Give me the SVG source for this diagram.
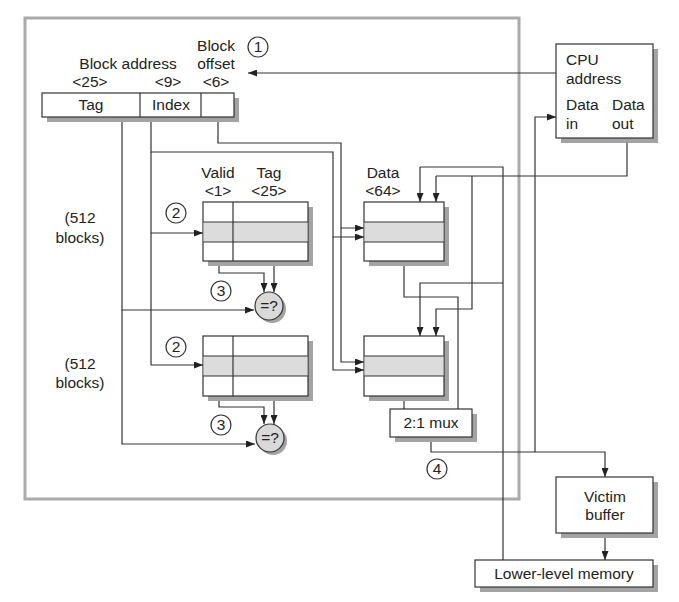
<svg xmlns="http://www.w3.org/2000/svg" width="679" height="602" viewBox="0 0 679 602">
<defs>
<marker id="ah" markerWidth="9" markerHeight="7" refX="9" refY="3.5" orient="auto" markerUnits="userSpaceOnUse">
<path d="M0,0 L9,3.5 L0,7 z" fill="#222"/>
</marker>
<style>
text{font-family:"Liberation Sans",Arial,sans-serif;font-size:15.5px;fill:#222}
.c{text-anchor:middle}
.box{fill:#fff;stroke:#333;stroke-width:1.2}
.sh{fill:#a3a3a3}
.hl{fill:#dcdcdd;stroke:none}
.ln{fill:none;stroke:#333;stroke-width:1.2}
.w{fill:none;stroke:#333;stroke-width:1.2}
.a{fill:none;stroke:#333;stroke-width:1.2;marker-end:url(#ah)}
.num{fill:#fff;stroke:#333;stroke-width:1.2}
.cmp{fill:#d9d9da;stroke:#333;stroke-width:1.2}
</style>
</defs>
<rect width="679" height="602" fill="#fff"/>
<rect x="25" y="18" width="494" height="481" fill="none" stroke="#aaa" stroke-width="3"/>

<g id="connectors">
<path class="a" d="M556,73 H248"/>
<path class="a" d="M535,452 V117 H556"/>
<path class="w" d="M627,138 V176 H436"/>
<path class="a" d="M436,176 V202"/>
<path class="a" d="M472,176 V309 H436 V336"/>
<path class="w" d="M503,560 V167 H420"/>
<path class="a" d="M420,167 V202"/>
<path class="a" d="M503,283 H420 V336"/>
<path class="a" d="M218,117 V143 H341 V228 H364"/>
<path class="a" d="M341,228 V362 H364"/>
<path class="a" d="M151,117 V152 H333 V237 H364"/>
<path class="a" d="M333,237 V370 H364"/>
<path class="a" d="M151,152 V233 H203"/>
<path class="a" d="M151,233 V365 H203"/>
<path class="a" d="M122,117 V310 H254"/>
<path class="a" d="M122,310 V444 H255"/>
<path class="a" d="M219,242 V273 H264 V292"/>
<path class="a" d="M274,242 V292"/>
<path class="a" d="M219,376 V407 H264 V424"/>
<path class="a" d="M274,376 V424"/>
<path class="w" d="M404,242 V297 H458 V409"/>
<path class="w" d="M404,376 V409"/>
<path class="a" d="M431,437 V452 H605 V477"/>
<path class="a" d="M605,533 V560"/>
</g>

<g id="address">
<rect class="sh" x="47" y="98" width="192" height="24"/>
<rect class="box" x="42" y="93" width="192" height="24"/>
<line class="ln" x1="140" y1="93" x2="140" y2="117"/>
<line class="ln" x1="201" y1="93" x2="201" y2="117"/>
<text class="c" x="91" y="110">Tag</text>
<text class="c" x="171" y="110">Index</text>
<text class="c" x="128" y="69">Block address</text>
<text class="c" x="90" y="87">&lt;25&gt;</text>
<text class="c" x="168" y="87">&lt;9&gt;</text>
<text class="c" x="216" y="87">&lt;6&gt;</text>
<text class="c" x="216" y="51">Block</text>
<text class="c" x="216" y="69">offset</text>
</g>

<g id="step1"><circle cx="258" cy="47" r="10" class="num"/><text class="c" x="258" y="52">1</text></g>

<g id="cpu">
<rect class="sh" x="561" y="49" width="97" height="94"/>
<rect class="box" x="556" y="44" width="97" height="94"/>
<text x="566" y="65">CPU</text>
<text x="566" y="84">address</text>
<text x="566" y="110">Data</text>
<text x="566" y="129">in</text>
<text x="612" y="110">Data</text>
<text x="612" y="129">out</text>
</g>

<g id="labels">
<text class="c" x="80" y="223">(512</text>
<text class="c" x="80" y="243">blocks)</text>
<text class="c" x="80" y="369">(512</text>
<text class="c" x="80" y="388">blocks)</text>
<text class="c" x="218" y="178">Valid</text>
<text class="c" x="218" y="196">&lt;1&gt;</text>
<text class="c" x="269" y="178">Tag</text>
<text class="c" x="269" y="196">&lt;25&gt;</text>
<text class="c" x="383" y="178">Data</text>
<text class="c" x="383" y="196">&lt;64&gt;</text>
</g>

<g id="tag1">
<rect class="sh" x="208" y="207" width="105" height="59"/>
<rect class="box" x="203" y="202" width="105" height="59"/>
<rect class="hl" x="203.6" y="222" width="103.8" height="20"/>
<line class="ln" x1="203" y1="222" x2="308" y2="222"/>
<line class="ln" x1="203" y1="242" x2="308" y2="242"/>
<line class="ln" x1="233" y1="202" x2="233" y2="261"/>
</g>
<g id="tag2">
<rect class="sh" x="208" y="341" width="105" height="60"/>
<rect class="box" x="203" y="336" width="105" height="60"/>
<rect class="hl" x="203.6" y="356" width="103.8" height="20"/>
<line class="ln" x1="203" y1="356" x2="308" y2="356"/>
<line class="ln" x1="203" y1="376" x2="308" y2="376"/>
<line class="ln" x1="233" y1="336" x2="233" y2="396"/>
</g>

<g id="data1">
<rect class="sh" x="369" y="207" width="80" height="59"/>
<rect class="box" x="364" y="202" width="80" height="59"/>
<rect class="hl" x="364.6" y="222" width="78.8" height="20"/>
<line class="ln" x1="364" y1="222" x2="444" y2="222"/>
<line class="ln" x1="364" y1="242" x2="444" y2="242"/>
</g>
<g id="data2">
<rect class="sh" x="369" y="341" width="80" height="60"/>
<rect class="box" x="364" y="336" width="80" height="60"/>
<rect class="hl" x="364.6" y="356" width="78.8" height="20"/>
<line class="ln" x1="364" y1="356" x2="444" y2="356"/>
<line class="ln" x1="364" y1="376" x2="444" y2="376"/>
</g>

<g id="cmp1"><circle cx="272" cy="309" r="14" class="sh"/><circle cx="269" cy="306" r="14" class="cmp"/><text class="c" x="269" y="311">=?</text></g>
<g id="cmp2"><circle cx="273" cy="441" r="14" class="sh"/><circle cx="270" cy="438" r="14" class="cmp"/><text class="c" x="270" y="443">=?</text></g>

<g id="step2a"><circle cx="176" cy="213" r="10" class="num"/><text class="c" x="176" y="218">2</text></g>
<g id="step2b"><circle cx="176" cy="347" r="10" class="num"/><text class="c" x="176" y="352">2</text></g>
<g id="step3a"><circle cx="221" cy="291" r="10" class="num"/><text class="c" x="221" y="296">3</text></g>
<g id="step3b"><circle cx="221" cy="425" r="10" class="num"/><text class="c" x="221" y="430">3</text></g>
<g id="step4"><circle cx="437" cy="469" r="10" class="num"/><text class="c" x="437" y="474">4</text></g>

<g id="mux">
<rect class="sh" x="395" y="414" width="82" height="28"/>
<rect class="box" x="390" y="409" width="82" height="28"/>
<text class="c" x="431" y="428">2:1 mux</text>
</g>

<g id="victim">
<rect class="sh" x="561" y="482" width="97" height="56"/>
<rect class="box" x="556" y="477" width="97" height="56"/>
<text class="c" x="605" y="502">Victim</text>
<text class="c" x="605" y="520">buffer</text>
</g>

<g id="lower">
<rect class="sh" x="480" y="565" width="178" height="27"/>
<rect class="box" x="475" y="560" width="178" height="27"/>
<text class="c" x="564" y="579">Lower-level memory</text>
</g>
</svg>
